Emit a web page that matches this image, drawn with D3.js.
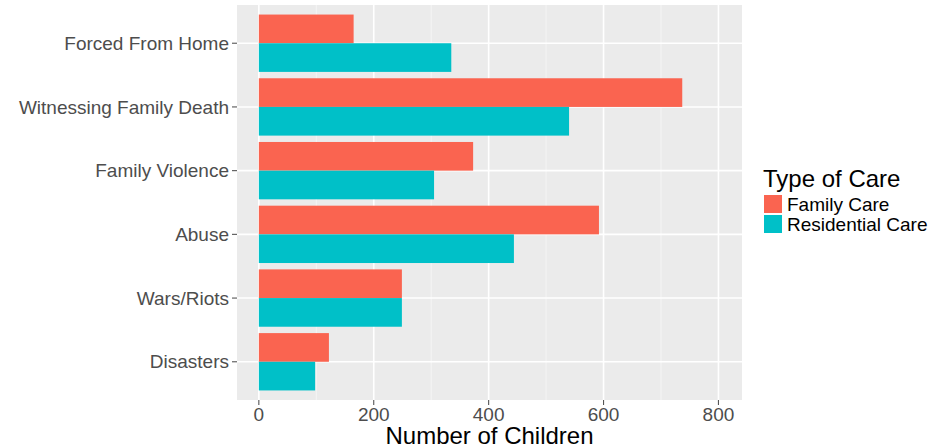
<!DOCTYPE html>
<html>
<head>
<meta charset="utf-8">
<script src="https://cdn.jsdelivr.net/npm/d3@7"></script>
<style>
  html, body { margin: 0; padding: 0; background: #fff; }
  svg { display: block; font-family: "Liberation Sans", Arial, Helvetica, sans-serif; }
</style>
</head>
<body>
<svg id="chart" width="942" height="447"></svg>
<script>
// ---- data ----
const categories = ["Forced From Home", "Witnessing Family Death", "Family Violence", "Abuse", "Wars/Riots", "Disasters"];
const seriesNames = ["Family Care", "Residential Care"];
const familyCare = [165, 737, 373, 592, 249, 122];
const residentialCare = [335, 540, 305, 444, 249, 98];
const xTicks = [0, 200, 400, 600, 800];
const xMinor = [100, 300, 500, 700];
const colors = ["#FA6450", "#00C0C8"];

// ---- layout ----
const svg = d3.select("#chart");
const panel = { left: 237, right: 742, top: 5, bottom: 400 };

const x = d3.scaleLinear().domain([-38, 841]).range([panel.left, panel.right]);
// ggplot-style: discrete expand 0.6 each side, bar width 0.9
const y = d3.scalePoint().domain(categories)
  .range([panel.top, panel.bottom]).padding(0.6);
const barW = y.step() * 0.9;
const ySub = d3.scaleBand().domain(seriesNames).range([-barW / 2, barW / 2]);

// panel background
svg.append("rect")
  .attr("x", panel.left).attr("y", panel.top)
  .attr("width", panel.right - panel.left).attr("height", panel.bottom - panel.top)
  .attr("fill", "#EBEBEB");

// minor grid
svg.append("g").selectAll("line").data(xMinor).join("line")
  .attr("x1", d => x(d)).attr("x2", d => x(d))
  .attr("y1", panel.top).attr("y2", panel.bottom)
  .attr("stroke", "#F7F7F7").attr("stroke-width", 0.8);
// major grid
svg.append("g").selectAll("line").data(xTicks).join("line")
  .attr("x1", d => x(d)).attr("x2", d => x(d))
  .attr("y1", panel.top).attr("y2", panel.bottom)
  .attr("stroke", "#FFFFFF").attr("stroke-width", 1.6);
svg.append("g").selectAll("line").data(categories).join("line")
  .attr("x1", panel.left).attr("x2", panel.right)
  .attr("y1", d => y(d)).attr("y2", d => y(d))
  .attr("stroke", "#FFFFFF").attr("stroke-width", 1.6);

// bars
const rows = categories.map((c, i) => ({ c, vals: [familyCare[i], residentialCare[i]] }));
const g = svg.append("g");
rows.forEach(r => {
  seriesNames.forEach((s, j) => {
    g.append("rect")
      .attr("x", x(0))
      .attr("y", y(r.c) + ySub(s))
      .attr("width", x(r.vals[j]) - x(0))
      .attr("height", ySub.bandwidth())
      .attr("fill", colors[j]);
  });
});

// y axis
const yAxisG = svg.append("g");
categories.forEach(c => {
  yAxisG.append("line")
    .attr("x1", panel.left - 5).attr("x2", panel.left)
    .attr("y1", y(c)).attr("y2", y(c))
    .attr("stroke", "#555").attr("stroke-width", 1.1);
  yAxisG.append("text")
    .attr("x", panel.left - 8).attr("y", y(c))
    .attr("dy", "0.35em").attr("text-anchor", "end")
    .attr("font-size", 19).attr("fill", "#4D4D4D")
    .text(c);
});

// x axis
const xAxisG = svg.append("g");
xTicks.forEach(t => {
  xAxisG.append("line")
    .attr("x1", x(t)).attr("x2", x(t))
    .attr("y1", panel.bottom).attr("y2", panel.bottom + 5)
    .attr("stroke", "#555").attr("stroke-width", 1.1);
  xAxisG.append("text")
    .attr("x", x(t)).attr("y", 421)
    .attr("text-anchor", "middle")
    .attr("font-size", 19).attr("fill", "#4D4D4D")
    .text(t);
});
svg.append("text")
  .attr("x", (panel.left + panel.right) / 2).attr("y", 443.5)
  .attr("text-anchor", "middle")
  .attr("font-size", 24).attr("fill", "#000")
  .text("Number of Children");

// legend
const lg = svg.append("g").attr("transform", "translate(764,0)");
lg.append("text").attr("x", -1).attr("y", 187)
  .attr("font-size", 24).attr("fill", "#000").text("Type of Care");
seriesNames.forEach((s, j) => {
  lg.append("rect").attr("x", 0).attr("y", 195 + j * 20)
    .attr("width", 18).attr("height", 18).attr("fill", colors[j]);
  lg.append("text").attr("x", 23).attr("y", 204 + j * 20)
    .attr("dy", "0.35em").attr("font-size", 19).attr("fill", "#000").text(s);
});
</script>
</body>
</html>
